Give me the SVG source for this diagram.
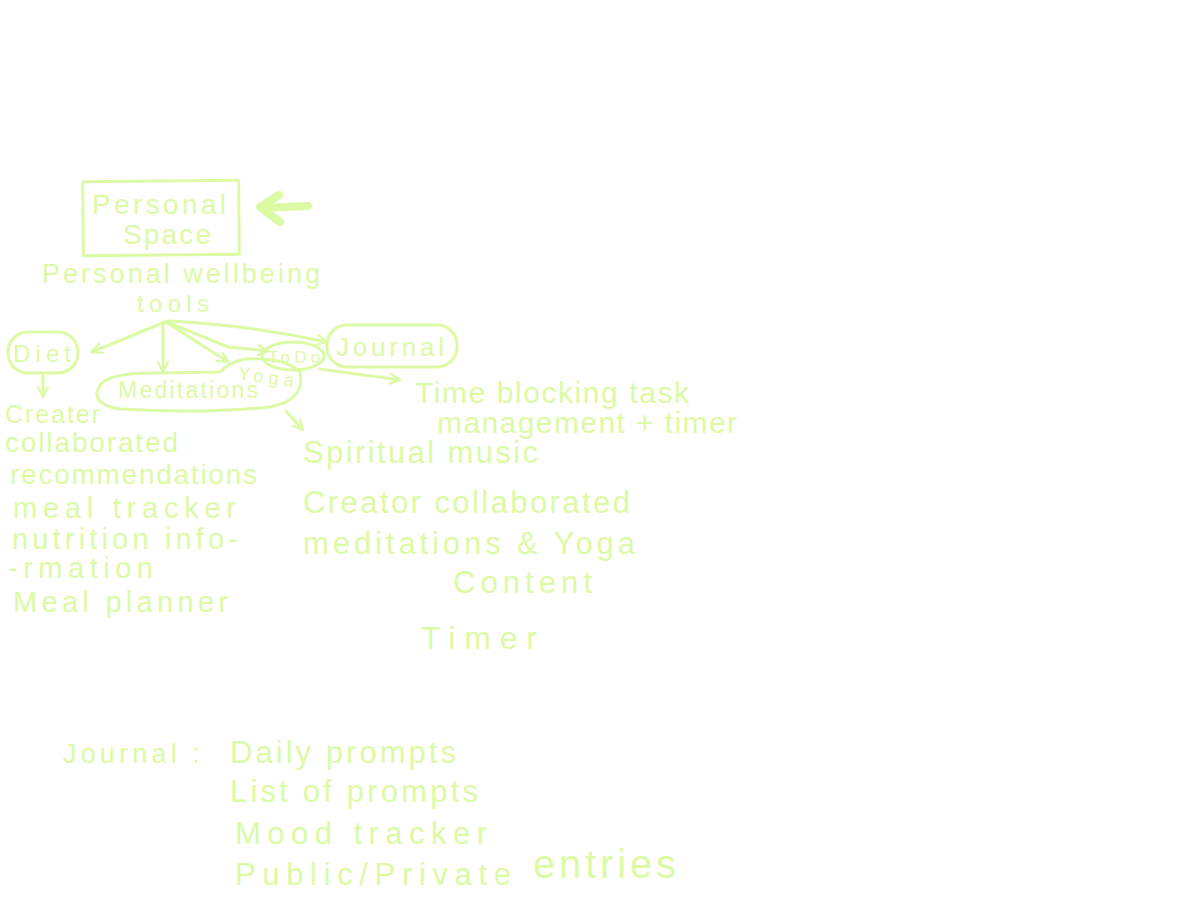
<svg xmlns="http://www.w3.org/2000/svg" width="1200" height="900" viewBox="0 0 1200 900" font-size="28">
<style>
text{font-family:"Liberation Sans","DejaVu Sans",sans-serif;fill:#dcfaa4}
.s{fill:none;stroke:#dcfaa4;stroke-width:3;stroke-linecap:round;stroke-linejoin:round}
.b{fill:none;stroke:#dcfaa4;stroke-width:8;stroke-linecap:round;stroke-linejoin:round}
</style>
<defs>
<marker id="ah" viewBox="0 0 12 12" refX="11" refY="6" markerWidth="12" markerHeight="12" markerUnits="userSpaceOnUse" orient="auto">
<path d="M1 1 L11 6 L1 11" fill="none" stroke="#dcfaa4" stroke-width="2.2" stroke-linecap="round"/>
</marker>
</defs>
<rect width="1200" height="900" fill="#ffffff"/>
<g id="personal-space">
<rect class="s" x="83" y="181" width="156" height="74" transform="rotate(-0.5 160 218)"/>
<text x="92" y="214" textLength="134" lengthAdjust="spacing" font-size="28">Personal</text>
<text x="123" y="244" textLength="88" lengthAdjust="spacing" font-size="28">Space</text>
</g>
<g id="pointer">
<path class="b" d="M308 206 L262 208 M279 195 L260 207 L280 222"/>
</g>
<g id="wellbeing">
<text x="42" y="283" textLength="278" lengthAdjust="spacing" font-size="27">Personal wellbeing</text>
<text x="137" y="312" textLength="72" lengthAdjust="spacing" font-size="24">tools</text>
</g>
<g id="diet">
<rect class="s" x="8" y="332" width="70" height="41" rx="20"/>
<text x="13" y="362" textLength="58" lengthAdjust="spacing" font-size="24">Diet</text>
</g>
<g id="meditations">
<path class="s" d="M100 385 Q110 372 160 373 L220 372 Q228 363 245 359 Q285 357 300 372 Q306 400 270 407 Q200 414 120 409 Q95 405 97 392 Z"/>
<text x="118" y="398" textLength="140" lengthAdjust="spacing" font-size="23">Meditations</text>
<text x="238" y="383" textLength="56" lengthAdjust="spacing" font-size="18" transform="rotate(8 265 377)">Yoga</text>
</g>
<g id="todo">
<ellipse class="s" cx="293" cy="356" rx="31" ry="14"/>
<text x="268" y="363" textLength="52" lengthAdjust="spacing" font-size="17">ToDo</text>
</g>
<g id="journal">
<rect class="s" x="327" y="325" width="130" height="42" rx="20"/>
<text x="336" y="356" textLength="108" lengthAdjust="spacing" font-size="26">Journal</text>
</g>
<g id="connectors">
<path class="s" d="M165 322 L92 352" marker-end="url(#ah)"/>
<path class="s" d="M163 322 L163 372" marker-end="url(#ah)"/>
<path class="s" d="M166 322 L228 362" marker-end="url(#ah)"/>
<path class="s" d="M167 322 L228 347 L268 351" marker-end="url(#ah)"/>
<path class="s" d="M168 321 Q250 325 327 342" marker-end="url(#ah)"/>
<path class="s" d="M320 369 L400 380" marker-end="url(#ah)"/>
<path class="s" d="M43 376 L43 397" marker-end="url(#ah)"/>
<path class="s" d="M286 411 L303 430" marker-end="url(#ah)"/>
</g>
<g id="todo-notes">
<text x="415" y="403" textLength="274" lengthAdjust="spacing" font-size="30">Time blocking task</text>
<text x="437" y="433" textLength="300" lengthAdjust="spacing" font-size="30">management + timer</text>
</g>
<g id="diet-notes">
<text x="5" y="423" textLength="95" lengthAdjust="spacing" font-size="25">Creater</text>
<text x="5" y="452" textLength="173" lengthAdjust="spacing" font-size="28">collaborated</text>
<text x="10" y="484" textLength="247" lengthAdjust="spacing" font-size="28">recommendations</text>
<text x="13" y="518" textLength="223" lengthAdjust="spacing" font-size="29">meal  tracker</text>
<text x="12" y="549" textLength="226" lengthAdjust="spacing" font-size="29">nutrition info-</text>
<text x="8" y="578" textLength="145" lengthAdjust="spacing" font-size="29">-rmation</text>
<text x="13" y="612" textLength="215" lengthAdjust="spacing" font-size="29">Meal planner</text>
</g>
<g id="meditation-notes">
<text x="303" y="463" textLength="235" lengthAdjust="spacing" font-size="31">Spiritual music</text>
<text x="303" y="513" textLength="327" lengthAdjust="spacing" font-size="31">Creator collaborated</text>
<text x="303" y="554" textLength="332" lengthAdjust="spacing" font-size="31">meditations &amp; Yoga</text>
<text x="453" y="593" textLength="139" lengthAdjust="spacing" font-size="31">Content</text>
<text x="421" y="649" textLength="116" lengthAdjust="spacing" font-size="32">Timer</text>
</g>
<g id="journal-notes">
<text x="63" y="763" textLength="137" lengthAdjust="spacing" font-size="27">Journal :</text>
<text x="230" y="763" textLength="226" lengthAdjust="spacing" font-size="31">Daily prompts</text>
<text x="230" y="802" textLength="248" lengthAdjust="spacing" font-size="31">List of prompts</text>
<text x="235" y="844" textLength="252" lengthAdjust="spacing" font-size="31">Mood  tracker</text>
<text x="235" y="885" textLength="276" lengthAdjust="spacing" font-size="31">Public/Private</text>
<text x="533" y="878" textLength="143" lengthAdjust="spacing" font-size="40">entries</text>
</g>
</svg>
